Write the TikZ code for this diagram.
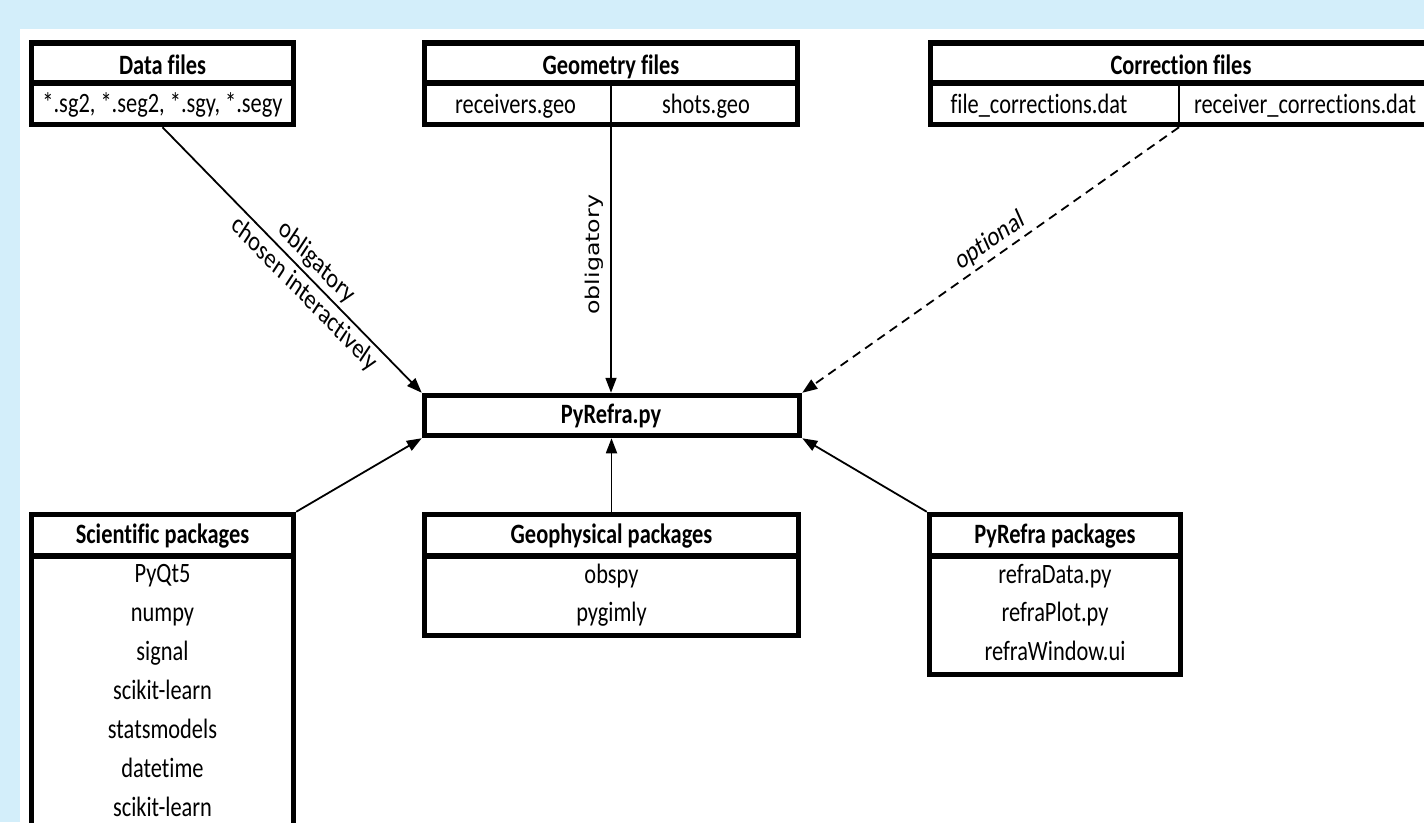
\documentclass[tikz,border=0pt]{standalone}
\usepackage{fontspec}
\setmainfont[Ligatures=NoCommon]{Carlito}
\newfontfamily\dvs{DejaVu Sans}
\usetikzlibrary{arrows.meta}
\definecolor{bgblue}{RGB}{211,238,250}
\begin{document}
\begin{tikzpicture}[x=1pt,y=-1pt,
  boxnode/.style={draw=black, line width=5.5pt, fill=white, inner sep=0pt, rectangle},
  hdr/.style={font=\fontsize{28}{34}\selectfont\bfseries, xscale=0.8, inner sep=0pt, anchor=base},
  itm/.style={font=\fontsize{28}{34}\selectfont, xscale=0.8, inner sep=0pt, anchor=base},
  conn/.style={line width=1.8pt, -{Triangle[length=15pt,width=11pt]}},
  lbl/.style={font=\fontsize{28}{34}\selectfont, xscale=0.8, inner sep=4pt},
  vlbl/.style={font=\dvs\fontsize{23.7}{28}\selectfont, xscale=0.8, rotate=90, inner sep=9pt},
  divider/.style={line width=1.5pt},
]
\useasboundingbox (0,0) rectangle (1424,822);
\clip (0,0) rectangle (1424,822);
\fill[bgblue] (0,0) rectangle (1424,822);
\fill[white] (20,29) rectangle (1424,822);

% Data files
\node[boxnode, minimum width=262pt, minimum height=40pt] (dataH) at (162.5,63) {};
\node[boxnode, minimum width=262pt, minimum height=41.5pt] (dataR) at (162.5,103.75) {};
\node[hdr] (dataT) at (162.5,74) {Data files};
\node[itm] (dataI) at (162.5,112) {*.sg2, *.seg2, *.sgy, *.segy};

% Geometry files
\node[boxnode, minimum width=373pt, minimum height=40pt] (geoH) at (611,63) {};
\node[boxnode, minimum width=373pt, minimum height=41.5pt] (geoR) at (611,103.75) {};
\draw[divider] (geoR.north) -- (geoR.south);
\node[hdr] (geoT) at (611,74) {Geometry files};
\node[itm] (geoI1) at (515.5,113) {receivers.geo};
\node[itm] (geoI2) at (706,113) {shots.geo};

% Correction files
\node[boxnode, minimum width=497.5pt, minimum height=40pt] (corrH) at (1179,63) {};
\node[boxnode, minimum width=497.5pt, minimum height=41.5pt] (corrR) at (1179,103.75) {};
\draw[divider] (corrR.north) -- (corrR.south);
\node[hdr] (corrT) at (1181,74) {Correction files};
\node[itm] (corrI1) at (1039,113) {file\_corrections.dat};
\node[itm] (corrI2) at (1305,113) {receiver\_corrections.dat};

% PyRefra.py
\node[boxnode, minimum width=375pt, minimum height=40pt] (pyr) at (612,415.5) {};
\node[hdr] (pyrT) at (611,423) {PyRefra.py};

% Scientific packages
\node[boxnode, minimum width=262pt, minimum height=41.5pt] (sciH) at (162.5,535.25) {};
\node[boxnode, minimum width=262pt, minimum height=288pt] (sciR) at (162.5,700) {};
\node[hdr] (sciT) at (162.5,543) {Scientific packages};
\node[itm] (sci1) at (162.5,582) {PyQt5};
\node[itm] (sci2) at (162.5,621) {numpy};
\node[itm] (sci3) at (162.5,660) {signal};
\node[itm] (sci4) at (162.5,699) {scikit-learn};
\node[itm] (sci5) at (162.5,738) {statsmodels};
\node[itm] (sci6) at (162.5,777) {datetime};
\node[itm] (sci7) at (162.5,816) {scikit-learn};

% Geophysical packages
\node[boxnode, minimum width=374pt, minimum height=41.5pt] (gphH) at (611.5,535.25) {};
\node[boxnode, minimum width=374pt, minimum height=79.5pt] (gphR) at (611.5,595.75) {};
\node[hdr] (gphT) at (611.5,543) {Geophysical packages};
\node[itm] (gph1) at (611.5,583) {obspy};
\node[itm] (gph2) at (611.5,621) {pygimly};

% PyRefra packages
\node[boxnode, minimum width=251pt, minimum height=41.5pt] (pkgH) at (1055,535.25) {};
\node[boxnode, minimum width=251pt, minimum height=118.5pt] (pkgR) at (1055,615.25) {};
\node[hdr] (pkgT) at (1055,543) {PyRefra packages};
\node[itm] (pkg1) at (1055,583) {refraData.py};
\node[itm] (pkg2) at (1055,621) {refraPlot.py};
\node[itm] (pkg3) at (1055,660) {refraWindow.ui};

% Connectors
\draw[conn] (dataR.south) --
  node[lbl, rotate=-39.5, pos=0.56, anchor=south] {obligatory}
  node[lbl, rotate=-39.5, pos=0.58, anchor=north] {chosen interactively}
  (pyr.north west);
\draw[conn] (geoR.south) --
  node[vlbl, pos=0.48, anchor=south] {obligatory}
  (geoR.south |- pyr.north);
\draw[conn, dash pattern=on 9pt off 6pt] (corrR.south) --
  node[lbl, rotate=29.3, pos=0.484, anchor=south] {optional}
  (pyr.north east);
\draw[conn] (sciH.north east) -- (pyr.south west);
\draw[conn] (gphH.north) -- (gphH.north |- pyr.south);
\draw[conn] (pkgH.north west) -- (pyr.south east);
\end{tikzpicture}
\end{document}
